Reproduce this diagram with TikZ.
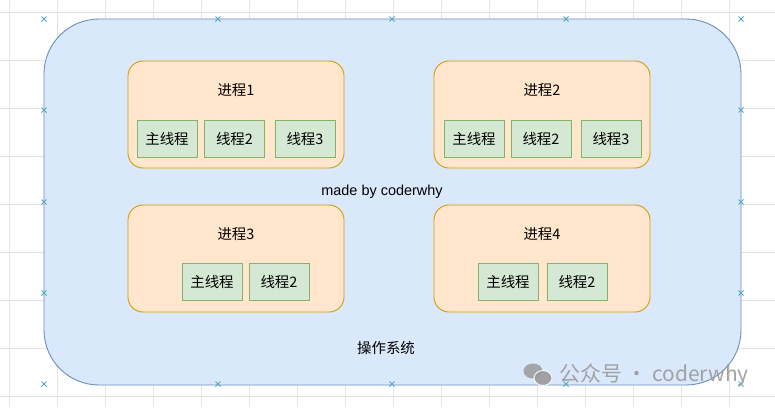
\documentclass[tikz,border=0pt]{standalone}
\usepackage{fontspec}
\setmainfont{Liberation Sans}
\newfontfamily\cjk{Noto Sans CJK SC}
\usetikzlibrary{positioning}
\definecolor{osfill}{HTML}{DAE8FC}
\definecolor{osline}{HTML}{6C8EBF}
\definecolor{procfill}{HTML}{FFE6CC}
\definecolor{procline}{HTML}{D79B00}
\definecolor{thrfill}{HTML}{D5E8D4}
\definecolor{thrline}{HTML}{82B366}
\definecolor{gridcol}{HTML}{E4E4E4}
\definecolor{markcol}{HTML}{4FA8C8}
\definecolor{wmcol}{HTML}{9A9A9A}
\begin{document}
\begin{tikzpicture}[x=1bp,y=-1bp,
    gridline/.style={gridcol, line width=0.6bp},
    xmark/.style={markcol, line width=0.8bp},
    osbox/.style={draw=osline, fill=osfill, line width=0.9bp, rounded corners=55bp, minimum width=697bp, minimum height=366bp},
    procbox/.style={draw=procline, fill=procfill, line width=0.9bp, rounded corners=15bp, minimum width=216bp, minimum height=107bp},
    thrbox/.style={draw=thrline, fill=thrfill, line width=0.9bp, minimum width=60bp, minimum height=37bp, inner sep=0pt, font=\cjk\fontsize{14.5}{16}\selectfont},
    lbl/.style={font=\cjk\fontsize{14.5}{16}\selectfont, inner sep=0pt}]
    \useasboundingbox (0,0) rectangle (775,407);
    \fill[white] (0,0) rectangle (775,407);
    \foreach \gx in {9,57,...,777} \draw[gridline] (\gx,0) -- (\gx,407);
    \foreach \gy in {12,60,...,407} \draw[gridline] (0,\gy) -- (775,\gy);
    \node[osbox] (os) at (392.5,202) {};
    \foreach \mx/\my in {44/19, 218/19, 392/19, 566/19, 741/19, 44/110, 741/110, 44/202, 741/202, 44/293, 741/293, 44/384, 218/384, 392/384, 566/384, 741/384}
      \draw[xmark] (\mx-2.5,\my-2.5) -- ++(5,5) (\mx-2.5,\my+2.5) -- ++(5,-5);
    \node[procbox] (p1) at (236,114.5) {};
    \node[lbl] (p1t) at (236,90) {进程1};
    \node[thrbox] (p1m) at (167,138.5) {主线程};
    \node[thrbox] (p1a) at (234.5,138.5) {线程2};
    \node[thrbox] (p1b) at (305,138.5) {线程3};
    \node[procbox] (p2) at (542,114.5) {};
    \node[lbl] (p2t) at (542,90) {进程2};
    \node[thrbox] (p2m) at (474,138.5) {主线程};
    \node[thrbox] (p2a) at (541,138.5) {线程2};
    \node[thrbox] (p2b) at (611,138.5) {线程3};
    \node[lbl, font=\fontsize{14.5}{16}\selectfont] (made) at (382,192) {made by coderwhy};
    \node[procbox] (p3) at (236,258.5) {};
    \node[lbl] (p3t) at (236,234) {进程3};
    \node[thrbox] (p3m) at (212,282) {主线程};
    \node[thrbox] (p3a) at (279,282) {线程2};
    \node[procbox] (p4) at (542,258.5) {};
    \node[lbl] (p4t) at (542,234) {进程4};
    \node[thrbox] (p4m) at (508,282) {主线程};
    \node[thrbox] (p4a) at (577,282) {线程2};
    \node[lbl] (oslbl) at (386,348) {操作系统};
    \fill[wmcol, opacity=0.85] (533,371) ellipse (9.5bp and 7.5bp);
    \filldraw[wmcol, draw=white, line width=1bp, opacity=0.9] (543,378) ellipse (9bp and 7.5bp);
    \node[anchor=west, text=wmcol, opacity=0.9, font=\cjk\fontsize{21}{24}\selectfont, inner sep=0pt] (wm) at (559,375) {公众号 · coderwhy};
\end{tikzpicture}
\end{document}
